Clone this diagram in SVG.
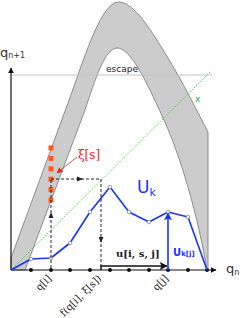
<svg xmlns="http://www.w3.org/2000/svg" width="240" height="318" viewBox="0 0 240 318">
<defs>
<style>
.band{fill:#cccccc;stroke:#777;stroke-width:0.8}
.axis{stroke:#111;stroke-width:1.2;fill:none}
.dash{stroke:#222;stroke-width:1;stroke-dasharray:3,2;fill:none}
.curve{stroke:#1a33ff;stroke-width:1.6;fill:none;stroke-linejoin:round}
.vtx{fill:#fff;stroke:#777;stroke-width:0.7}
.dot{fill:#111}
.sq{fill:#ff5a14}
.lbl{font-family:"DejaVu Serif","Liberation Serif",serif;fill:#222;font-size:10px}
.sans{font-family:"DejaVu Sans","Liberation Sans",sans-serif}
</style>
<marker id="ah" viewBox="0 0 10 10" refX="9" refY="5" markerWidth="6" markerHeight="6" orient="auto" markerUnits="userSpaceOnUse"><path d="M0,0 L10,5 L0,10 Z" fill="#111"/></marker>
<marker id="mid" viewBox="0 0 10 10" refX="5" refY="5" markerWidth="6" markerHeight="6" orient="auto" markerUnits="userSpaceOnUse"><path d="M0,1 L10,5 L0,9 Z" fill="#222"/></marker>
<marker id="bigk" viewBox="0 0 10 10" refX="9" refY="5" markerWidth="11" markerHeight="8" orient="auto" markerUnits="userSpaceOnUse"><path d="M0,0 L10,5 L0,10 L2,5 Z" fill="#111"/></marker>
<marker id="bigb" viewBox="0 0 10 10" refX="9" refY="5" markerWidth="11" markerHeight="8" orient="auto" markerUnits="userSpaceOnUse"><path d="M0,0 L10,5 L0,10 L2,5 Z" fill="#1a33ff"/></marker>
<marker id="red" viewBox="0 0 10 10" refX="9" refY="5" markerWidth="6" markerHeight="6" orient="auto" markerUnits="userSpaceOnUse"><path d="M0,0 L10,5 L0,10 Z" fill="#ee2222"/></marker>
</defs>
<rect width="240" height="318" fill="#fff"/>

<g id="escape-region">
<path class="band" d="M11,258 L72,92 C86,52 102,3 118,2 C134,1 152,32 168,58 C185,86 198,113 208,132 L208,270 L207,270 C195,200 175,143 163,118 C145,78 130,48 117,48 C105,48 95,80 85,110 L25,270 L11,270 Z"/>
<line x1="12" y1="75" x2="212" y2="75" stroke="#c4c4c4" stroke-width="1"/>
<text x="106" y="72" class="sans" font-size="9" fill="#222">escape</text>
</g>

<g id="diagonal">
<line x1="11" y1="270" x2="211" y2="71" stroke="#33dd33" stroke-width="1" stroke-dasharray="1.5,1.5"/>
<text x="195" y="102" class="sans" font-size="9" fill="#33aa33">x</text>
</g>

<g id="axes">
<line class="axis" x1="11" y1="270" x2="11" y2="68" marker-end="url(#ah)"/>
<line class="axis" x1="11" y1="270" x2="216" y2="270" marker-end="url(#ah)"/>
<text x="0" y="57" class="sans" font-size="13" fill="#333">q<tspan font-size="8" dy="1">n+1</tspan></text>
<text x="226" y="273" class="sans" font-size="13" fill="#333">q<tspan font-size="8" dy="2">n</tspan></text>
<g class="dot">
<circle cx="31" cy="270" r="2"/><circle cx="51" cy="270" r="2"/><circle cx="70" cy="270" r="2"/><circle cx="90" cy="270" r="2"/><circle cx="110" cy="270" r="2"/><circle cx="129" cy="270" r="2"/><circle cx="149" cy="270" r="2"/><circle cx="168" cy="270" r="2"/><circle cx="188" cy="270" r="2"/><circle cx="207" cy="270" r="2"/>
</g>
</g>

<g id="Uk">
<polyline class="curve" points="11,270 31,259 51,258 70,243 90,212 110,187 129,212 149,222 168,212 188,217 207,270"/>
<g class="vtx">
<circle cx="31" cy="259" r="1.8"/><circle cx="51" cy="258" r="1.8"/><circle cx="70" cy="243" r="1.8"/><circle cx="90" cy="212" r="1.8"/><circle cx="110" cy="187" r="1.8"/><circle cx="129" cy="212" r="1.8"/><circle cx="149" cy="222" r="1.8"/><circle cx="168" cy="212" r="1.8"/><circle cx="188" cy="217" r="1.8"/>
</g>
<text x="137" y="193" class="sans" font-size="17" fill="#1a33ff">U<tspan font-size="11" dy="3">k</tspan></text>
</g>

<g id="xi">
<g class="sq">
<rect x="48.5" y="145.5" width="5" height="5"/><rect x="48.5" y="155.9" width="5" height="5"/><rect x="48.5" y="166.3" width="5" height="5"/><rect x="48.5" y="176.7" width="5" height="5"/><rect x="48.5" y="187.1" width="5" height="5"/><rect x="48.5" y="197.5" width="5" height="5"/>
</g>
<text x="78" y="159" font-family="DejaVu Serif, Liberation Serif, serif" font-size="12" fill="#ee2222">ξ[s]</text>
</g>

<g id="connectors">
<path class="dash" d="M51,268 L51,215 L51,179" marker-mid="url(#mid)"/>
<path class="dash" d="M51,179 L80,179 L101,179" marker-mid="url(#mid)"/>
<path class="dash" d="M101,179 L101,240 L101,266" marker-mid="url(#mid)"/>
<line x1="77" y1="157" x2="57" y2="173" stroke="#ee2222" stroke-width="0.8" marker-end="url(#red)"/>
<path d="M101,270 L101,266 L167,266" stroke="#111" stroke-width="1.5" fill="none" marker-end="url(#bigk)"/>
<line x1="168" y1="270" x2="168" y2="213" stroke="#1a33ff" stroke-width="1.6" marker-end="url(#bigb)"/>
</g>

<g id="labels">
<text x="116" y="257" class="lbl" font-weight="bold" font-size="10">u[i, s, j]</text>
<text x="173" y="256" class="sans" font-weight="bold" font-size="10" fill="#1a33ff">U<tspan font-size="7">k[j]</tspan></text>
<text class="lbl" transform="translate(52,279) rotate(-45)" text-anchor="end">q[i]</text>
<text class="lbl" transform="translate(102,279) rotate(-45)" text-anchor="end">f(q[i], ξ[s])</text>
<text class="lbl" transform="translate(169,279) rotate(-45)" text-anchor="end">q[j]</text>
</g>
</svg>
